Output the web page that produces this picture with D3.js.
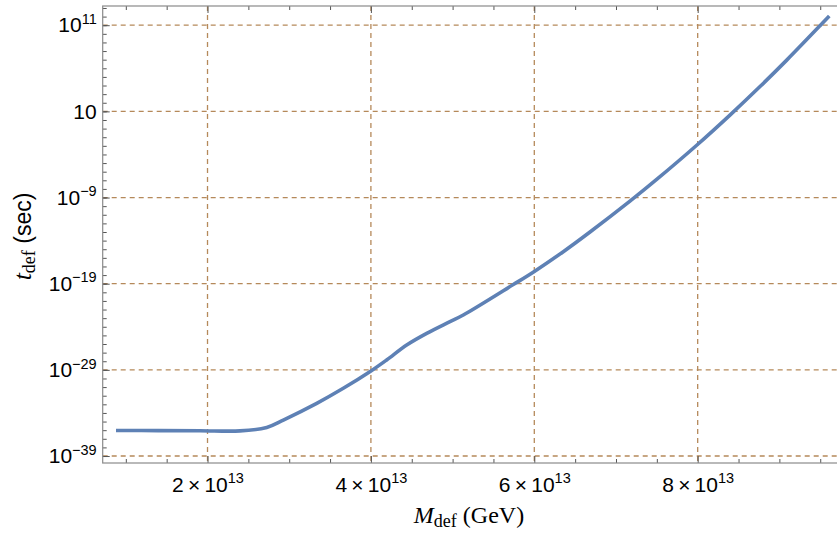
<!DOCTYPE html>
<html lang="en">
<head>
<meta charset="utf-8">
<title>t_def vs M_def</title>
<script src="https://cdn.jsdelivr.net/npm/d3@7"></script>
<style>
  body { margin: 0; background: #fff; }
  svg { display: block; }
</style>
</head>
<body>
<script>

// mass in units of 1e13 GeV, lifetime in seconds
var massE13 = [0.88, 1.40, 1.908, 2.398, 2.725, 2.928, 3.337, 3.662, 4.001, 4.193,
               4.438, 4.683, 4.968, 5.131, 5.743, 5.996, 6.355, 6.682, 7.171, 7.498,
               7.988, 8.395, 8.763, 9.09, 9.497, 9.611];
var tDef = [9.1e-37, 8.9e-37, 8.7e-37, 8.2e-37, 2.1e-36, 1.5e-35, 1.3e-33, 7.2e-32, 7.4e-30, 1.4e-28,
            7.6e-27, 1.7e-25, 3.9e-24, 2.3e-23, 7.9e-20, 2.5e-18, 5.2e-16, 1.0e-13, 3.8e-10, 1.26e-7,
            1.17e-3, 3.7, 7.6e3, 8.9e6, 8.7e10, 1.2e12];

var xTicks = [2, 4, 6, 8];
var xMinor = [1, 1.5, 2.5, 3, 3.5, 4.5, 5, 5.5, 6.5, 7, 7.5, 8.5, 9, 9.5];
var yTicks = [1e-39, 1e-29, 1e-19, 1e-9, 1e1, 1e11];
var yMinor = [];
for (var e = -39; e <= 13; e++) yMinor.push(Math.pow(10, e));

var width = 837, height = 533;
var pLeft = 102.7, pRight = 840, pTop = 6, pBottom = 463;

var svg = d3.select("body").append("svg")
    .attr("width", width)
    .attr("height", height);

var x = d3.scaleLinear().domain([0.717, 9.742]).range([pLeft, pRight]);
var y = d3.scaleLog().domain([Math.pow(10, -39.81), Math.pow(10, 13.23)]).range([pBottom, pTop]);

var gridColor = "#b5895a";
var frameColor = "#8a8a8a";
var tickFont = "'Liberation Sans', Arial, sans-serif";

// grid lines
svg.append("g").selectAll("line").data(xTicks).enter()
    .append("line")
    .attr("x1", function(d) { return x(d); })
    .attr("x2", function(d) { return x(d); })
    .attr("y1", pTop).attr("y2", pBottom)
    .style("stroke", gridColor).style("stroke-width", 1.3)
    .style("stroke-dasharray", "5,4");

svg.append("g").selectAll("line").data(yTicks).enter()
    .append("line")
    .attr("x1", pLeft).attr("x2", pRight)
    .attr("y1", function(d) { return y(d); })
    .attr("y2", function(d) { return y(d); })
    .style("stroke", gridColor).style("stroke-width", 1.3)
    .style("stroke-dasharray", "5,4");

// axes: minor then major ticks, all pointing inward
function styleAxis(g) {
    g.select(".domain").remove();
    g.selectAll(".tick line").style("stroke", "#555").style("stroke-width", 1);
}

svg.append("g").attr("transform", "translate(0," + pBottom + ")")
    .call(d3.axisBottom(x).tickValues(xMinor).tickSize(-4).tickFormat(""))
    .call(styleAxis);
svg.append("g").attr("transform", "translate(0," + pTop + ")")
    .call(d3.axisTop(x).tickValues(xMinor).tickSize(-4).tickFormat(""))
    .call(styleAxis);
svg.append("g").attr("transform", "translate(0," + pTop + ")")
    .call(d3.axisTop(x).tickValues(xTicks).tickSize(-7).tickFormat(""))
    .call(styleAxis);
svg.append("g").attr("transform", "translate(" + pLeft + ",0)")
    .call(d3.axisLeft(y).tickValues(yMinor).tickSize(-4).tickFormat(""))
    .call(styleAxis);

var xAxis = svg.append("g").attr("transform", "translate(0," + pBottom + ")")
    .call(d3.axisBottom(x).tickValues(xTicks).tickSize(-7).tickPadding(0).tickFormat(""))
    .call(styleAxis);

xAxis.selectAll(".tick text")
    .attr("y", 28.5).attr("dy", null)
    .style("font-family", tickFont).style("font-size", "21px").style("fill", "#000")
    .each(function(d) {
        var t = d3.select(this);
        t.append("tspan").text(d + "\u2009\u00d7\u200910");
        t.append("tspan").attr("dy", -8.5).style("font-size", "14.5px").text("13");
    });

var yAxis = svg.append("g").attr("transform", "translate(" + pLeft + ",0)")
    .call(d3.axisLeft(y).tickValues(yTicks).tickSize(-7).tickPadding(6).tickFormat(""))
    .call(styleAxis);

yAxis.selectAll(".tick text")
    .style("font-family", tickFont).style("font-size", "21px").style("fill", "#000")
    .each(function(d) {
        var t = d3.select(this);
        var p = Math.round(Math.log10(d));
        t.append("tspan").text("10");
        if (p !== 1) {
            t.append("tspan").attr("dy", -8.5).style("font-size", "14.5px")
                .text(String(p).replace("-", "\u2212"));
        }
    });

// frame
svg.append("rect")
    .attr("x", pLeft).attr("y", pTop)
    .attr("width", pRight - pLeft).attr("height", pBottom - pTop)
    .style("fill", "none").style("stroke", frameColor).style("stroke-width", 1.2);

// curve
var pts = massE13.map(function(m, i) { return [m, tDef[i]]; });
var line = d3.line()
    .x(function(d) { return x(d[0]); })
    .y(function(d) { return y(d[1]); })
    .curve(d3.curveCatmullRom.alpha(0.5));

svg.append("path")
    .datum(pts)
    .attr("d", line)
    .style("fill", "none")
    .style("stroke", "#5e81b5")
    .style("stroke-width", 3.6)
    .style("stroke-linecap", "butt");

// axis titles
var serif = "'Liberation Serif', 'Times New Roman', serif";

var xl = svg.append("text")
    .attr("x", 469).attr("y", 523)
    .attr("text-anchor", "middle")
    .style("font-family", serif).style("font-size", "24px");
xl.append("tspan").style("font-style", "italic").text("M");
xl.append("tspan").attr("dy", 4).style("font-size", "18px").text("def");
xl.append("tspan").attr("dy", -4).text(" (GeV)");

var yl = svg.append("text")
    .attr("transform", "translate(31,236.5) rotate(-90)")
    .attr("text-anchor", "middle")
    .style("font-family", serif).style("font-size", "24px");
yl.append("tspan").style("font-style", "italic").style("font-size", "26px").text("t");
yl.append("tspan").attr("dy", 4).style("font-size", "18px").text("def");
yl.append("tspan").attr("dy", -4).style("font-family", tickFont).style("font-size", "23px").text(" (sec)");

</script>
</body>
</html>
